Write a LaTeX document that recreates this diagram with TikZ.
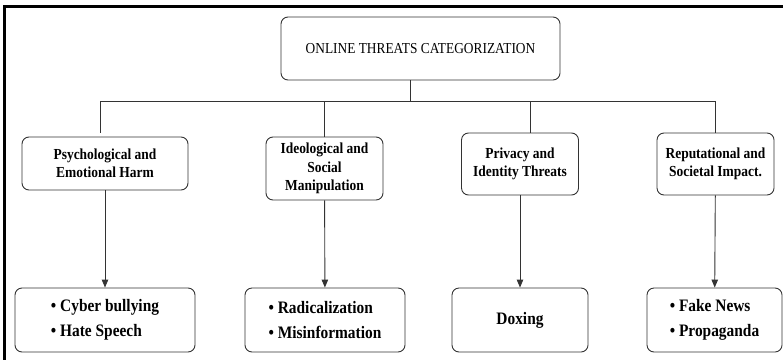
\documentclass[tikz,border=0pt]{standalone}
\usepackage{fontspec}
\setmainfont{Liberation Serif}
\newfontfamily\tallserif[FakeStretch=0.88]{Liberation Serif}
\usetikzlibrary{arrows.meta}

\tikzset{
    box/.style={draw=black!80, line width=0.9pt, rounded corners=7pt, align=center, inner sep=2pt},
    rootbox/.style={box, font=\tallserif\fontsize{15.2}{18}\selectfont},
    catbox/.style={box, font=\tallserif\fontsize{15.3}{18.5}\selectfont\bfseries},
    itembox/.style={box, font=\tallserif\fontsize{17.5}{25}\selectfont\bfseries},
    link/.style={draw=black!80, line width=0.9pt},
    arr/.style={link, -{Triangle[length=8pt,width=6.5pt]}}
}

\begin{document}
\begin{tikzpicture}[x=1pt, y=-1pt]
    \useasboundingbox (0,0) rectangle (783,359);

    % Outer frame (cropped on the right and bottom)
    \draw[line width=3pt] (4.5,365) |- (790,6.5);

    % Root
    \node[rootbox, minimum width=279pt, minimum height=63pt] (root) at (420.5,48.5) {ONLINE THREATS CATEGORIZATION};

    % Categories
    \node[catbox, minimum width=166pt, minimum height=53pt] (psych) at (105,163.5) {Psychological and\\Emotional Harm};
    \node[catbox, minimum width=117pt, minimum height=63pt] (ideo) at (324.5,168.5) {Ideological and\\Social\\Manipulation};
    \node[catbox, minimum width=117pt, minimum height=62pt] (priv) at (520,164) {Privacy and\\Identity Threats};
    \node[catbox, minimum width=117pt, minimum height=62pt] (rep) at (715.5,164) {Reputational and\\Societal Impact.};

    % Examples
    \node[itembox, align=left, minimum width=180pt, minimum height=64pt] (cyber) at (105,320) {\textbullet\ Cyber bullying\\\textbullet\ Hate Speech};
    \node[itembox, align=left, minimum width=160pt, minimum height=64pt] (radical) at (325,320) {\textbullet\ Radicalization\\\textbullet\ Misinformation};
    \node[itembox, minimum width=136pt, minimum height=64pt] (doxing) at (520,320) {Doxing};
    \node[itembox, align=left, minimum width=135pt, minimum height=64pt] (fake) at (714.5,320) {\textbullet\ Fake News\\\textbullet\ Propaganda};

    % Tree lines
    \coordinate (busL) at (100,101.5);
    \coordinate (busR) at (715.5,101.5);
    \draw[link] (busL) -- (busR);
    \draw[link] ([xshift=-10pt]root.south) -- ([xshift=-10pt]root.south |- busL);
    \draw[link, shorten >=4pt] (busL) -- (busL |- psych.north);
    \draw[link] (ideo.north |- busL) -- (ideo.north);
    \draw[link] ([xshift=10pt]priv.north |- busL) -- ([xshift=10pt]priv.north);
    \draw[link] (busR) -- (rep.north);

    % Arrows down
    \draw[arr] (psych) -- (cyber);
    \draw[arr] (ideo) -- (radical);
    \draw[arr] (priv) -- (doxing);
    \draw[arr] (rep) -- (fake);
\end{tikzpicture}
\end{document}
